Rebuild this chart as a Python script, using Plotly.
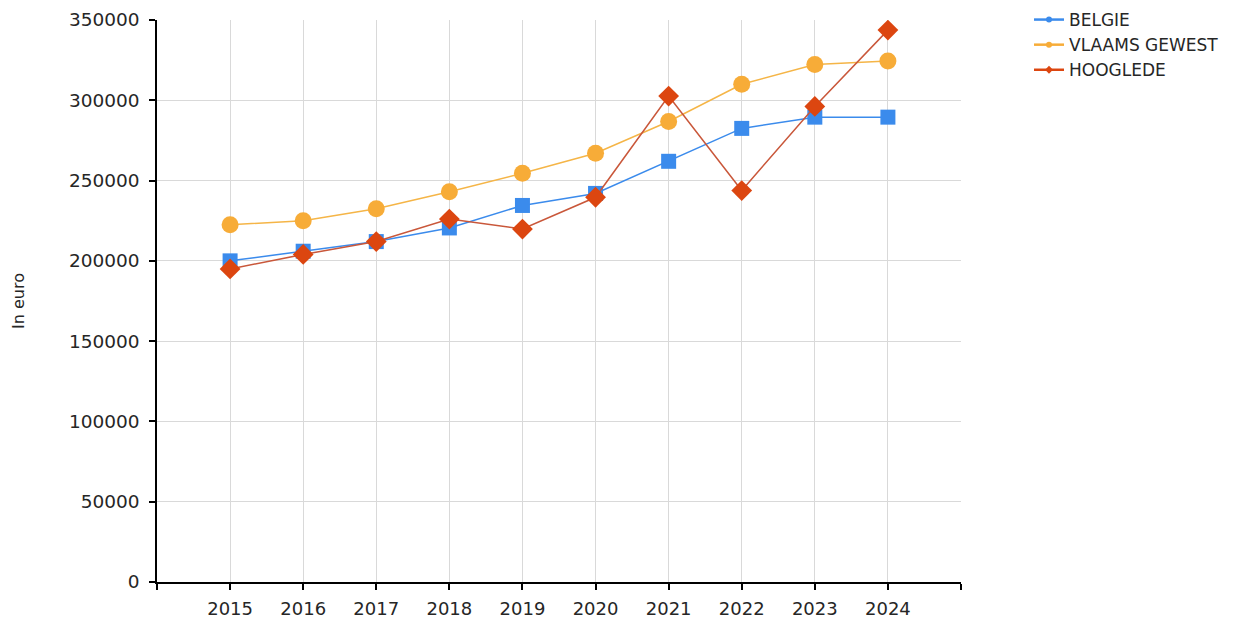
import plotly.graph_objects as go

years = [2015, 2016, 2017, 2018, 2019, 2020, 2021, 2022, 2023, 2024]
belgie = [200000, 206000, 212000, 220500, 234500, 242000, 262000, 282500, 289500, 289500]
vlaams_gewest = [222500, 225000, 232500, 243000, 254500, 267000, 286800, 310000, 322300, 324500]
hooglede = [195000, 204000, 212000, 226000, 219800, 239600, 302600, 243800, 296200, 343700]

x_tick_vals = [2014, 2015, 2016, 2017, 2018, 2019, 2020, 2021, 2022, 2023, 2024, 2025]
x_tick_text = ["", "2015", "2016", "2017", "2018", "2019", "2020", "2021", "2022", "2023", "2024", ""]

series = [
    ("BELGIE", belgie, "#3b8bec", "#3b8bec", "square", 15),
    ("VLAAMS GEWEST", vlaams_gewest, "#f7ac38", "#f5b547", "circle", 17),
    ("HOOGLEDE", hooglede, "#dc4610", "#c9573a", "diamond", 16),
]

FONT = "DejaVu Sans"
TXT = "#262626"

fig = go.Figure()
for name, vals, mcol, lcol, sym, size in series:
    fig.add_trace(go.Scatter(
        x=years, y=vals, mode="lines+markers", name=name, showlegend=False,
        line=dict(color=lcol, width=1.5),
        marker=dict(symbol=sym, size=size, color=mcol),
    ))
# legend proxies with small markers
for name, vals, mcol, lcol, sym, size in series:
    fig.add_trace(go.Scatter(
        x=[None], y=[None], mode="lines+markers", name=name, showlegend=True,
        line=dict(color=mcol, width=2.5),
        marker=dict(symbol="circle" if sym != "diamond" else "diamond", size=6, color=mcol),
    ))

fig.update_layout(
    width=1234, height=626,
    margin=dict(l=149, r=281, t=12, b=52, autoexpand=False),
    paper_bgcolor="white", plot_bgcolor="white",
    font=dict(family=FONT, size=16, color=TXT),
    legend=dict(x=1.0846, y=1.032,
                xanchor="left", yanchor="top",
                font=dict(family=FONT, size=17, color=TXT),
                tracegroupgap=0, itemwidth=30, bgcolor="rgba(0,0,0,0)"),
    xaxis=dict(
        range=[2014, 2025], tickmode="array", tickvals=x_tick_vals, ticktext=x_tick_text,
        showline=True, linecolor="black", linewidth=1.5,
        ticks="outside", ticklen=6, tickcolor="black", tickwidth=1.5,
        showgrid=True, gridcolor="#d9d9d9", gridwidth=1, zeroline=False,
        tickfont=dict(family=FONT, size=18, color=TXT),
        ticklabelstandoff=4,
    ),
    yaxis=dict(
        range=[0, 350000], dtick=50000, tickformat="d",
        showline=True, linecolor="black", linewidth=1.5,
        ticks="outside", ticklen=6, tickcolor="black", tickwidth=1.5,
        showgrid=True, gridcolor="#d9d9d9", gridwidth=1, zeroline=False,
        tickfont=dict(family=FONT, size=18.5, color=TXT),
        title=dict(text="In euro", font=dict(family=FONT, size=16, color=TXT), standoff=40),
        ticklabelstandoff=6,
    ),
)

fig.write_html("out.html")
